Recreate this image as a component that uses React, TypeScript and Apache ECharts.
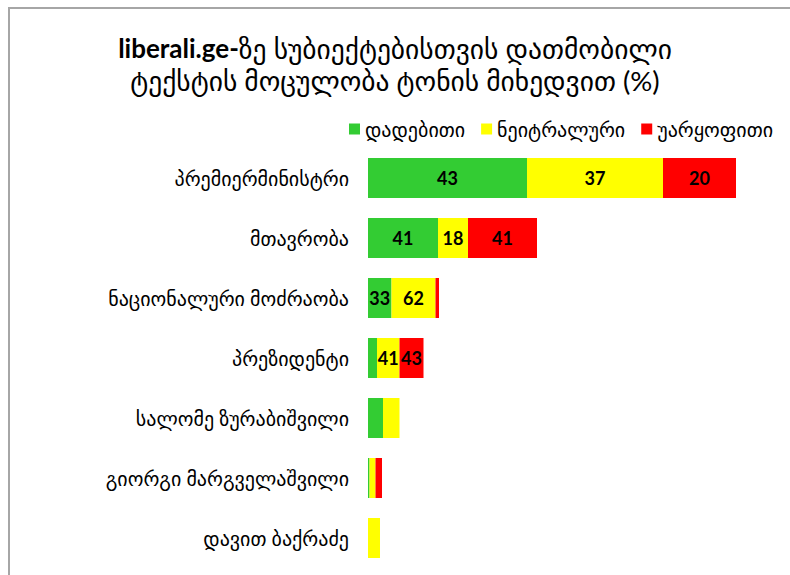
import React, { useEffect, useRef } from "react";
import * as echarts from "echarts";

const categories = [
  "პრემიერმინისტრი",
  "მთავრობა",
  "ნაციონალური მოძრაობა",
  "პრეზიდენტი",
  "სალომე ზურაბიშვილი",
  "გიორგი მარგველაშვილი",
  "დავით ბაქრაძე",
];
const seriesNames = ["დადებითი", "ნეიტრალური", "უარყოფითი"];
// text volume (relative units) per tone
const positiveVolume = [159, 70, 23.5, 9, 15, 1.5, 0];
const neutralVolume = [136, 30, 44, 22.5, 16.5, 6, 12];
const negativeVolume = [73, 69, 3.5, 24, 0, 6.5, 0];
// percentage labels shown inside the bars
const positivePct = [43, 41, 33, null, null, null, null];
const neutralPct = [37, 18, 62, 41, null, null, null];
const negativePct = [20, 41, null, 43, null, null, null];

const colors = ["#33CC33", "#FFFF00", "#FF0000"];
const FONT = "Lato, 'DejaVu Sans', sans-serif";

export default function App() {
  const ref = useRef<HTMLDivElement>(null);
  useEffect(() => {
    if (!ref.current) return;
    const chart = echarts.init(ref.current, undefined, { renderer: "svg" });
    const volumes = [positiveVolume, neutralVolume, negativeVolume];
    const pcts = [positivePct, neutralPct, negativePct];
    chart.setOption({
      animation: false,
      backgroundColor: "#ffffff",
      title: {
        left: "center",
        top: 27,
        text: "{b|liberali.ge-}ზე სუბიექტებისთვის დათმობილი\nტექსტის მოცულობა ტონის მიხედვით (%)",
        textStyle: {
          fontFamily: FONT,
          fontSize: 27.5,
          fontWeight: "normal",
          color: "#000",
          lineHeight: 32,
          rich: {
            b: { fontFamily: FONT, fontSize: 26, fontWeight: "bold", color: "#000", lineHeight: 32 },
          },
        },
      },
      legend: {
        left: 344,
        top: 114,
        icon: "rect",
        itemWidth: 11,
        itemHeight: 11,
        itemGap: 16,
        data: seriesNames,
        textStyle: { fontFamily: FONT, fontSize: 20, color: "#000", padding: [0, 0, 0, 0] },
      },
      grid: { left: 368, top: 148, width: 400, height: 420 },
      xAxis: {
        type: "value",
        min: 0,
        max: 400,
        show: false,
      },
      yAxis: {
        type: "category",
        inverse: true,
        data: categories,
        axisLine: { show: false },
        axisTick: { show: false },
        axisLabel: { fontFamily: FONT, fontSize: 20, color: "#000", margin: 19 },
      },
      graphic: [
        { type: "rect", shape: { x: 8, y: 7, width: 782, height: 2 }, style: { fill: "#a6a6a6" } },
        { type: "rect", shape: { x: 8, y: 7, width: 2, height: 568 }, style: { fill: "#a6a6a6" } },
      ],
      series: seriesNames.map((name, i) => ({
        name,
        type: "bar",
        stack: "total",
        barWidth: 40,
        itemStyle: { color: colors[i] },
        data: volumes[i],
        label: {
          show: true,
          position: "inside",
          fontFamily: FONT,
          fontSize: 18,
          fontWeight: "bold",
          color: "#000",
          formatter: (p: any) => {
            const v = pcts[i][p.dataIndex];
            return v == null ? "" : String(v);
          },
        },
      })),
    });
    return () => chart.dispose();
  }, []);
  return (
    <div
      ref={ref}
      style={{ position: "fixed", left: 0, top: 0, width: 790, height: 575 }}
    />
  );
}
